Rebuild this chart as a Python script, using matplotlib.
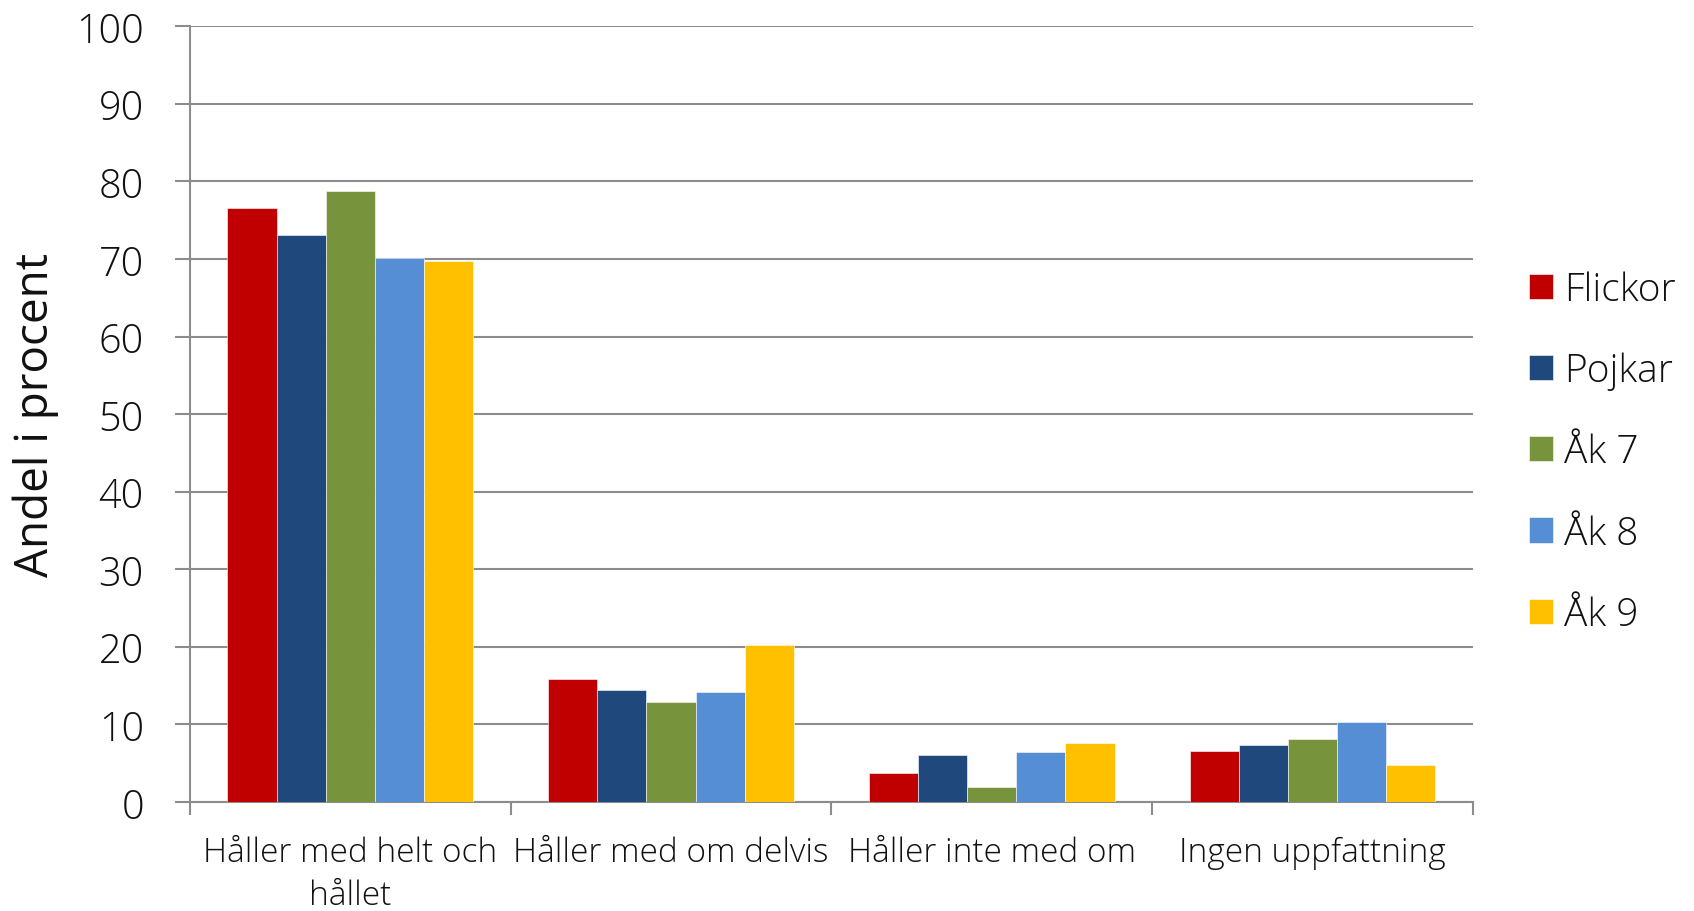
import matplotlib
matplotlib.use("Agg")
import matplotlib.pyplot as plt
import numpy as np

# kategorier och serier
categories = ["Håller med helt och\nhållet", "Håller med om delvis",
              "Håller inte med om", "Ingen uppfattning"]
series = ["Flickor", "Pojkar", "Åk 7", "Åk 8", "Åk 9"]
values = {
    "Flickor": [76.6, 15.8, 3.7, 6.6],
    "Pojkar": [73.1, 14.5, 6.0, 7.4],
    "Åk 7": [78.8, 12.9, 2.0, 8.1],
    "Åk 8": [70.2, 14.2, 6.5, 10.3],
    "Åk 9": [69.8, 20.3, 7.6, 4.8],
}
colors = ["#C00000", "#1F497D", "#77933C", "#558ED5", "#FFC000"]
yticks = list(range(0, 101, 10))

plt.rcParams["font.family"] = ["Open Sans", "DejaVu Sans"]
plt.rcParams["font.weight"] = "light"
txt_c = "#111111"

fig = plt.figure(figsize=(16.94, 9.12), dpi=100)
ax = fig.add_axes([0.112, 0.1195, 0.7576, 0.8505])

x = np.arange(len(categories))
w = 0.153
for i, (name, c) in enumerate(zip(series, colors)):
    ax.bar(x + (i - 2) * w, values[name], width=w, color=c, label=name,
           edgecolor="white", linewidth=0.4, zorder=3)

grid_c = "#8C8C8C"
ax.set_ylim(0, 100)
ax.set_xlim(-0.5, len(categories) - 0.5)
ax.set_yticks(yticks)
ax.set_yticklabels([str(t) for t in yticks], fontsize=28.5, color=txt_c)
ax.yaxis.grid(True, color=grid_c, linewidth=1.5, zorder=0)
ax.tick_params(axis="y", length=11, width=1.5, color=grid_c, pad=22)

# kategoriaxel: streck mellan grupperna, etiketter i mitten
ax.set_xticks(np.arange(len(categories) + 1) - 0.5)
ax.set_xticklabels([])
ax.set_xticks(x, minor=True)
ax.set_xticklabels(categories, minor=True, fontsize=24, color=txt_c,
                   linespacing=1.38)
ax.tick_params(axis="x", which="major", length=9, width=1.5, color=grid_c)
ax.tick_params(axis="x", which="minor", length=0, pad=24)

for s in ["top", "right"]:
    ax.spines[s].set_visible(False)
for s in ["left", "bottom"]:
    ax.spines[s].set_color(grid_c)
    ax.spines[s].set_linewidth(1.5)

ax.set_ylabel("Andel i procent", fontsize=33, labelpad=12, color=txt_c)

leg = ax.legend(loc="center left", bbox_to_anchor=(1.016, 0.451), frameon=False,
                fontsize=28, handlelength=0.62, handleheight=0.62,
                handletextpad=0.3, labelspacing=1.1)
for t in leg.get_texts():
    t.set_color(txt_c)

fig.savefig("out.png", dpi=100)
